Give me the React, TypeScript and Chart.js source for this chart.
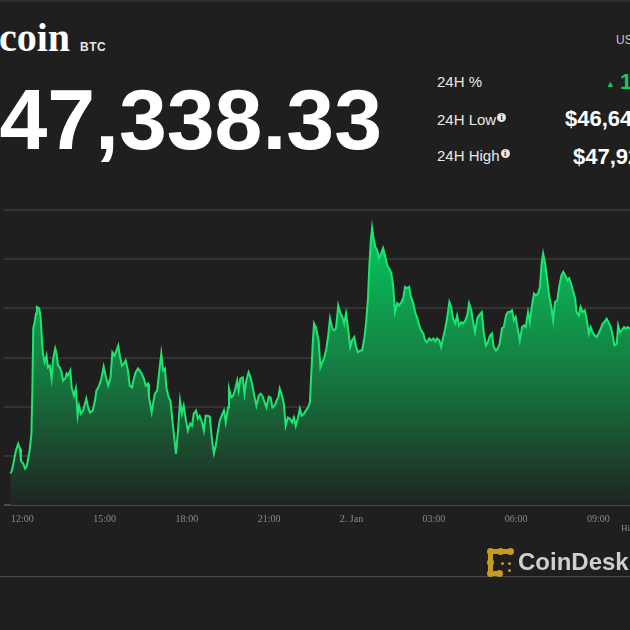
import React, { useEffect, useRef } from "react";
import { Chart, registerables } from "chart.js";

Chart.register(...registerables);

// Minutes since 1 Jan 00:00
const timesMin = [
  694, 697, 701, 706, 711, 715, 717, 722, 726, 730, 736, 740, 742, 744, 747, 750, 752, 757, 760, 763,
  765, 769, 773, 776, 780, 784, 787, 792, 795, 798, 802, 806, 809, 814, 817, 820, 825, 828, 833, 837,
  841, 844, 848, 853, 857, 860, 864, 868, 874, 879, 882, 888, 893, 898, 903, 908, 913, 917, 922, 926,
  930, 933, 938, 942, 946, 951, 955, 960, 964, 968, 973, 977, 981, 986, 990, 995, 997, 1003, 1006, 1010,
  1015, 1019, 1024, 1028, 1032, 1035, 1040, 1044, 1049, 1053, 1056, 1060, 1065, 1069, 1073, 1078, 1082, 1087, 1091, 1095,
  1100, 1104, 1108, 1113, 1117, 1121, 1126, 1130, 1135, 1139, 1143, 1148, 1152, 1156, 1161, 1165, 1170, 1172, 1177, 1181,
  1185, 1190, 1193, 1197, 1202, 1206, 1210, 1215, 1219, 1224, 1228, 1232, 1237, 1241, 1245, 1250, 1254, 1259, 1263, 1267,
  1272, 1276, 1280, 1283, 1288, 1292, 1296, 1301, 1305, 1310, 1314, 1318, 1323, 1327, 1331, 1336, 1340, 1345, 1349,
  1352, 1355, 1358, 1362, 1368, 1372, 1376, 1380, 1385, 1389, 1393, 1398, 1402, 1406, 1411, 1415, 1420, 1424, 1428, 1433,
  1437, 1441, 1446, 1450, 1454, 1459, 1463, 1468, 1472, 1476, 1479, 1482, 1485, 1487, 1492, 1496, 1500, 1505, 1509, 1514,
  1518, 1522, 1527, 1531, 1535, 1540, 1544, 1549, 1553, 1557, 1562, 1566, 1570, 1575, 1579, 1584, 1588, 1592, 1597, 1601,
  1605, 1610, 1614, 1619, 1623, 1627, 1632, 1636, 1640, 1645, 1649, 1654, 1658, 1662, 1667, 1671, 1675, 1680, 1684, 1689,
  1693, 1697, 1702, 1706, 1710, 1715, 1719,
  1725, 1729, 1734, 1738, 1743, 1747, 1751, 1756, 1760, 1764, 1769, 1773, 1778, 1782, 1786, 1791, 1795, 1799, 1804, 1808,
  1813, 1817, 1821, 1826, 1830, 1834, 1839, 1843, 1848, 1852, 1856, 1859, 1864, 1868, 1872, 1877, 1881, 1885, 1890, 1894,
  1899, 1903, 1907, 1912, 1916, 1920, 1925, 1929, 1932, 1937, 1941, 1945, 1950, 1954, 1959, 1963, 1967, 1972, 1976, 1980,
  1985, 1989, 1993, 1998, 2002, 2007, 2011, 2015, 2020, 2023, 2027, 2031, 2036, 2040, 2044, 2049,
];

// BTC price in USD
const prices = [
  46660, 46673, 46716, 46776, 46811, 46786, 46724, 46711, 46685, 46699, 46776, 46862, 47082, 47398, 47429, 47474, 47507, 47500, 47456, 47337,
  47270, 47226, 47260, 47200, 47209, 47143, 47235, 47296, 47270, 47209, 47200, 47175, 47133, 47143, 47168, 47158, 47184, 47098, 47056, 47092,
  46954, 47005, 46964, 46980, 47015, 47041, 46996, 46971, 46980, 47031, 47082, 47107, 47143, 47204, 47149, 47107, 47149, 47277, 47260, 47286,
  47311, 47260, 47209, 47218, 47235, 47184, 47107, 47098, 47143, 47175, 47194, 47184, 47168, 47143, 47107, 47117, 47047, 46971, 47015, 47066,
  47082, 47168, 47270, 47184, 47194, 47098, 47047, 47031, 46913, 46827, 46760, 46862, 47031, 46964, 47005, 46929, 46878, 46913, 46903, 46964,
  46980, 46939, 46954, 46920, 46878, 46954, 46954, 46949, 46827, 46762, 46801, 46878, 46929, 46954, 46980, 46920, 46996, 47092, 47047, 47056,
  47082, 47133, 47082, 47143, 47149, 47066, 47133, 47175, 47149, 47098, 47047, 47005, 47056, 47066, 47056, 47022, 46996, 47051, 47047, 46996,
  47005, 47031, 47047, 47092, 47056, 47015, 46903, 46945, 46939, 46920, 46945, 46903, 46945, 46990, 46954, 46964, 46980, 46996, 47022,
  47168, 47311, 47423, 47405, 47337, 47200, 47226, 47245, 47296, 47362, 47449, 47398, 47388, 47398, 47515, 47481, 47456, 47423, 47474, 47388,
  47303, 47337, 47354, 47303, 47277, 47286, 47286, 47347, 47430, 47551, 47719, 47838, 47908, 47872, 47813, 47796, 47755, 47781, 47806, 47762,
  47719, 47704, 47679, 47617, 47481, 47526, 47515, 47532, 47551, 47609, 47602, 47609, 47558, 47526, 47481, 47449, 47413, 47388, 47372, 47337,
  47328, 47347, 47337, 47347, 47332, 47347, 47337, 47303, 47347, 47398, 47449, 47532, 47507, 47449, 47423, 47464, 47413, 47430, 47423, 47439,
  47464, 47526, 47490, 47430, 47379, 47449, 47464,
  47481, 47379, 47311, 47328, 47362, 47372, 47303, 47286, 47296, 47321, 47398, 47405, 47464, 47481, 47481, 47490, 47439, 47456, 47388, 47337,
  47405, 47413, 47405, 47481, 47430, 47507, 47575, 47566, 47575, 47609, 47736, 47779, 47719, 47643, 47566, 47507, 47439, 47532, 47541, 47609,
  47668, 47685, 47668, 47643, 47653, 47626, 47583, 47551, 47481, 47464, 47507, 47481, 47490, 47447, 47371, 47405, 47379, 47362, 47354, 47371,
  47396, 47422, 47430, 47447, 47430, 47405, 47362, 47311, 47320, 47413, 47379, 47388, 47405, 47396, 47405, 47396,
];

const tickValues = [720, 900, 1080, 1260, 1440, 1620, 1800, 1980];
const tickLabels = ["12:00", "15:00", "18:00", "21:00", "2. Jan", "03:00", "06:00", "09:00"];

const yMin = 46500;
const yMax = 48000;
const yStep = 250;
const xMin = 680;
const xMax = 2049;

const coinName = "Bitcoin";
const coinSymbol = "BTC";
const currentPrice = "$47,338.33";
const currencyLabel = "USD";
const statLabels = ["24H %", "24H Low", "24H High"];
const changeValue = "1.51%";
const lowValue = "$46,643.23";
const highValue = "$47,925.41";

const BG = "#1f1f1f";
const SANS = "'Liberation Sans', Arial, sans-serif";
const SERIF = "'Liberation Serif', 'Times New Roman', serif";

function InfoIcon() {
  return (
    <span
      style={{
        display: "inline-block",
        width: 9,
        height: 9,
        borderRadius: "50%",
        background: "#e8e8e8",
        color: BG,
        fontSize: 8,
        fontWeight: 700,
        lineHeight: "9px",
        textAlign: "center",
        marginLeft: 1,
        verticalAlign: 5,
        fontFamily: SERIF,
      }}
    >
      i
    </span>
  );
}

function Dot({ x, y, r = 3.5 }: { x: number; y: number; r?: number }) {
  return (
    <div
      style={{
        position: "absolute",
        left: x - r,
        top: y - r,
        width: r * 2,
        height: r * 2,
        borderRadius: "50%",
        background: "#c99a23",
      }}
    />
  );
}

function Bar({ x, y, w, h }: { x: number; y: number; w: number; h: number }) {
  return <div style={{ position: "absolute", left: x, top: y, width: w, height: h, background: "#c99a23" }} />;
}

export default function App() {
  const canvasRef = useRef<HTMLCanvasElement | null>(null);

  useEffect(() => {
    if (!canvasRef.current) return;
    const chart = new Chart(canvasRef.current, {
      type: "line",
      data: {
        datasets: [
          {
            data: timesMin.map((t, i) => ({ x: t, y: prices[i] })),
            borderColor: "#1ee572",
            borderWidth: 2,
            pointRadius: 0,
            tension: 0,
            fill: "start",
            backgroundColor: (ctx: any) => {
              const { chart } = ctx;
              const area = chart.chartArea;
              if (!area) return "rgba(0,0,0,0)";
              const g = chart.ctx.createLinearGradient(0, area.top, 0, area.bottom);
              g.addColorStop(0, "rgb(0,210,100)");
              g.addColorStop(0.3, "rgb(14,162,80)");
              g.addColorStop(0.58, "rgb(22,118,62)");
              g.addColorStop(0.83, "rgb(28,70,45)");
              g.addColorStop(1, "rgb(31,36,33)");
              return g;
            },
          },
        ],
      },
      options: {
        animation: false,
        responsive: true,
        maintainAspectRatio: false,
        layout: { padding: { left: 4, right: 0, top: 10, bottom: 0 } },
        plugins: { legend: { display: false }, tooltip: { enabled: false } },
        scales: {
          x: {
            type: "linear",
            min: xMin,
            max: xMax,
            grid: { display: false, drawTicks: false },
            border: { display: false },
            afterBuildTicks: (scale: any) => {
              scale.ticks = tickValues.map((v) => ({ value: v }));
            },
            ticks: {
              autoSkip: false,
              maxRotation: 0,
              padding: 8,
              color: "#8a8a8a",
              font: { family: SERIF, size: 10 },
              callback: (v: any) => {
                const i = tickValues.indexOf(Number(v));
                return i >= 0 ? tickLabels[i] : "";
              },
            },
          },
          y: {
            z: 1,
            min: yMin,
            max: yMax,
            ticks: { display: false, stepSize: yStep },
            grid: {
              drawTicks: false,
              lineWidth: 2,
              color: (ctx: any) =>
                ctx.tick && ctx.tick.value === yMin ? "rgba(255,255,255,0.2)" : "rgba(255,255,255,0.09)",
            },
            border: { display: false },
          },
        },
      },
    } as any);
    return () => chart.destroy();
  }, []);

  return (
    <div
      style={{
        position: "fixed",
        left: 0,
        top: 0,
        width: 630,
        height: 630,
        background: BG,
        overflow: "hidden",
        fontFamily: SANS,
        color: "#fff",
      }}
    >
      <div style={{ position: "absolute", left: 0, top: 0, width: 630, height: 2, background: "#2c2c2c" }} />
      <div
        style={{
          position: "absolute",
          right: 560,
          top: 18,
          fontFamily: SERIF,
          fontWeight: 700,
          fontSize: 40,
          lineHeight: "40px",
          whiteSpace: "nowrap",
          color: "#ffffff",
        }}
      >
        {coinName}
      </div>
      <div
        style={{
          position: "absolute",
          left: 80,
          top: 41,
          fontWeight: 700,
          fontSize: 12,
          lineHeight: "12px",
          letterSpacing: 0.5,
          color: "#e6e6e6",
        }}
      >
        {coinSymbol}
      </div>
      <div
        style={{
          position: "absolute",
          right: 248,
          top: 76,
          fontWeight: 700,
          fontSize: 86,
          lineHeight: "86px",
          whiteSpace: "nowrap",
          color: "#ffffff",
        }}
      >
        {currentPrice}
      </div>
      <div style={{ position: "absolute", left: 616, top: 34, fontSize: 12, lineHeight: "12px", color: "#c8c8c8" }}>
        {currencyLabel}
      </div>
      <div style={{ position: "absolute", left: 437, top: 74, fontSize: 15, lineHeight: "15px", color: "#e8e8e8", whiteSpace: "nowrap" }}>
        {statLabels[0]}
      </div>
      <div style={{ position: "absolute", left: 437, top: 112, fontSize: 15, lineHeight: "15px", color: "#e8e8e8", whiteSpace: "nowrap" }}>
        {statLabels[1]}
        <InfoIcon />
      </div>
      <div style={{ position: "absolute", left: 437, top: 148, fontSize: 15, lineHeight: "15px", color: "#e8e8e8", whiteSpace: "nowrap" }}>
        {statLabels[2]}
        <InfoIcon />
      </div>
      <div
        style={{
          position: "absolute",
          left: 606,
          top: 71,
          fontWeight: 700,
          fontSize: 22,
          lineHeight: "22px",
          color: "#19c95f",
          whiteSpace: "nowrap",
        }}
      >
        <span style={{ fontSize: 9, verticalAlign: 2, marginRight: 5 }}>▲</span>
        {changeValue}
      </div>
      <div style={{ position: "absolute", left: 565, top: 108, fontWeight: 700, fontSize: 22, lineHeight: "22px", whiteSpace: "nowrap" }}>
        {lowValue}
      </div>
      <div style={{ position: "absolute", left: 573, top: 146, fontWeight: 700, fontSize: 22, lineHeight: "22px", whiteSpace: "nowrap" }}>
        {highValue}
      </div>

      <div style={{ position: "absolute", left: 0, top: 200, width: 630, height: 333 }}>
        <canvas ref={canvasRef} />
      </div>

      <div style={{ position: "absolute", left: 621, top: 523, fontFamily: SERIF, fontSize: 9, color: "#8a8a8a", whiteSpace: "nowrap" }}>
        Highcharts.com
      </div>

      <div style={{ position: "absolute", left: 0, top: 576, width: 630, height: 1, background: "#4a4a4a" }} />
      <Bar x={488} y={549} w={23} h={5} />
      <Bar x={488} y={549} w={5} h={27} />
      <Bar x={488} y={571} w={12} h={5} />
      <Dot x={490.5} y={551.5} />
      <Dot x={500} y={551.5} />
      <Dot x={510} y={551.5} />
      <Dot x={490.5} y={562.5} />
      <Dot x={490.5} y={573.5} />
      <Dot x={499} y={573.5} />
      <Dot x={502} y={563} r={1.5} />
      <Dot x={509} y={563} r={1.5} />
      <Dot x={509} y={570} r={1.5} />
      <div
        style={{
          position: "absolute",
          left: 518,
          top: 550,
          fontWeight: 700,
          fontSize: 24,
          lineHeight: "24px",
          color: "#cfcfcf",
          whiteSpace: "nowrap",
        }}
      >
        CoinDesk
      </div>
    </div>
  );
}
